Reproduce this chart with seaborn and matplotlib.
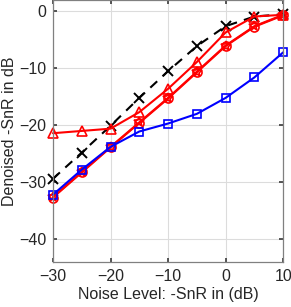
import numpy as np
import pandas as pd
import matplotlib
matplotlib.use("Agg")
import matplotlib.pyplot as plt
import seaborn as sns

noise = [-30, -25, -20, -15, -10, -5, 0, 5, 10]
black_x = [-29.4, -24.8, -20.1, -15.2, -10.5, -6.1, -2.6, -0.9, -0.5]
red_tri = [-21.4, -21.0, -20.6, -17.7, -13.6, -8.9, -3.7, -0.9, -0.6]
red_circ = [-32.7, -28.3, -23.9, -19.6, -15.3, -10.7, -6.1, -2.7, -0.7]
red_star = [-32.6, -28.2, -23.8, -19.5, -15.2, -10.6, -6.0, -2.6, -0.6]
blue_sq = [-32.2, -27.8, -23.8, -21.1, -19.7, -18.0, -15.2, -11.6, -7.2]

sns.set_theme(style="white")
plt.rcParams['font.family'] = ['Liberation Sans', 'DejaVu Sans']

fig = plt.figure(figsize=(2.91, 3.07), dpi=100)
ax = fig.add_axes([0.182, 0.147, 0.791, 0.853])

series = [
    ("black", black_x, dict(color="black", marker="x", linestyle=(0, (4.5, 3.5)), markersize=7.5, mew=1.4, mfc="none")),
    ("tri", red_tri, dict(color="red", marker="^", linestyle="-", markersize=7.5, mew=1.2, mfc="none")),
    ("circ", red_circ, dict(color="red", marker="o", linestyle="-", markersize=6.5, mew=1.2, mfc="none")),
    ("star", red_star, dict(color="red", marker="*", linestyle="-", markersize=7.5, mew=1.2, mfc="none")),
    ("sq", blue_sq, dict(color="blue", marker="s", linestyle="-", markersize=6, mew=1.2, mfc="none")),
]

for name, vals, kw in series:
    df = pd.DataFrame({"x": noise, "y": vals})
    sns.lineplot(data=df, x="x", y="y", ax=ax, color=kw["color"], marker=kw["marker"],
                 linestyle=kw["linestyle"], markersize=kw["markersize"],
                 markeredgewidth=kw["mew"], markerfacecolor=kw["mfc"],
                 markeredgecolor=kw["color"], linewidth=1.5, clip_on=False)

ax.set_xlim(-30, 10)
ax.set_ylim(-44, 2)
ax.set_xticks([-30, -20, -10, 0, 10])
ax.set_yticks([0, -10, -20, -30, -40])
ax.grid(True, color="#dcdcdc", linewidth=0.8)
ax.set_axisbelow(True)
for sp in ax.spines.values():
    sp.set_color("#808080")
    sp.set_linewidth(0.9)
    sp.set_visible(True)
ax.tick_params(direction="in", length=3, color="#404040", labelsize=11.5, labelcolor="#262626",
               top=True, right=True, left=True, bottom=True, pad=5)
ax.set_xlabel("Noise Level: -SnR in (dB)", fontsize=11.5, color="#262626", labelpad=2)
ax.set_ylabel("Denoised -SnR in dB", fontsize=11.5, color="#262626", labelpad=1)

fig.savefig("out.png", dpi=100)
